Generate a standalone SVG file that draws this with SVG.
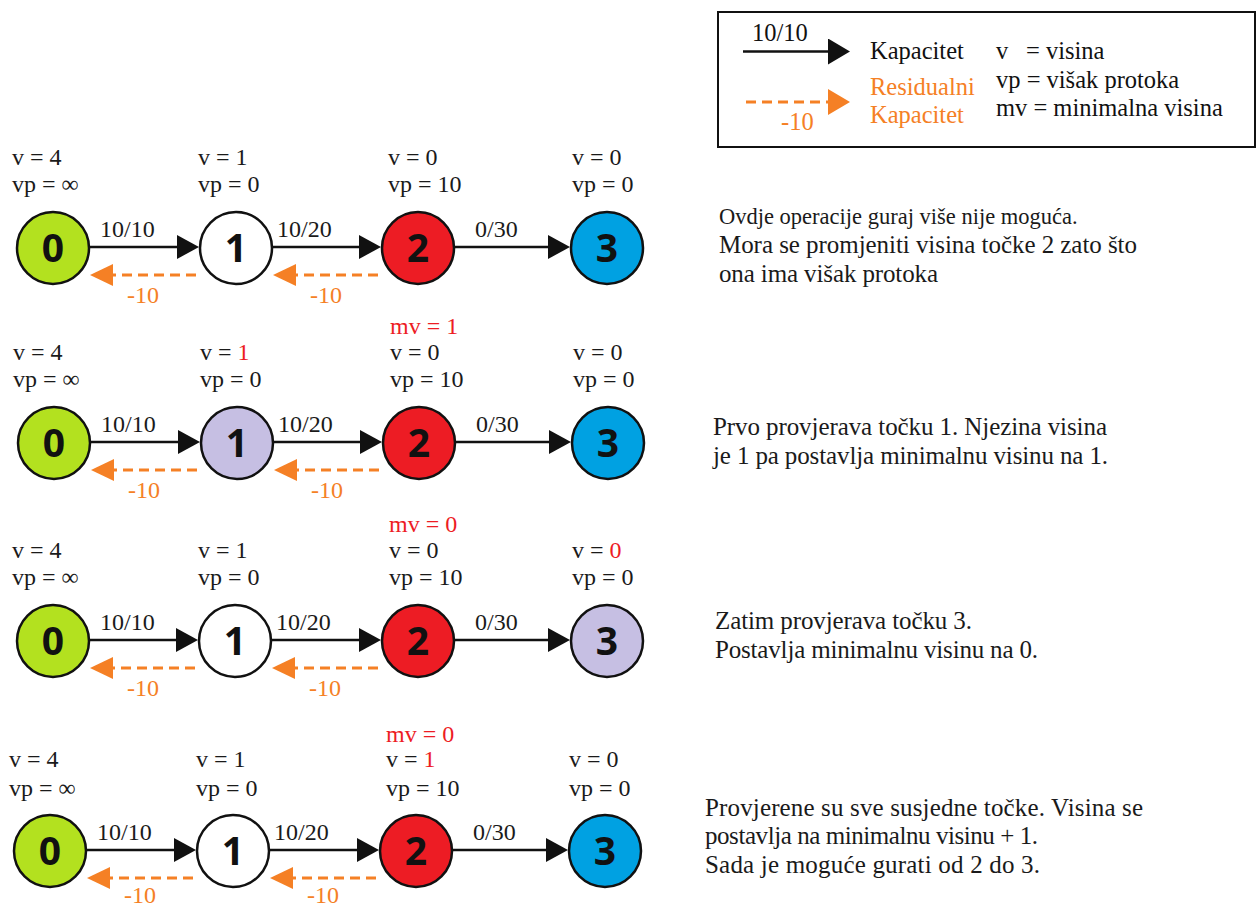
<svg xmlns="http://www.w3.org/2000/svg" width="1260" height="908" viewBox="0 0 1260 908">
<style>
.t{font-family:'Liberation Serif','Times New Roman','DejaVu Serif',serif;font-size:24px;fill:#1a1a1a}
.p{font-family:'Liberation Serif','Times New Roman','DejaVu Serif',serif;font-size:25px;fill:#1a1a1a}
.lg{font-family:'Liberation Serif','Times New Roman','DejaVu Serif',serif;font-size:24.5px;fill:#111}
.or{fill:#f58025}
.rd{fill:#ed1c24}
.num{font-family:'Open Sans','DejaVu Sans',sans-serif;font-weight:700;font-size:39px;fill:#111;text-anchor:middle}
.c{stroke:#111;stroke-width:2.5}
.green{fill:#b3e11f}.white{fill:#fff}.red{fill:#ed1c24}.blue{fill:#00a1e2}.lav{fill:#c6bfe3}
.e{stroke:#111;stroke-width:2.5;fill:none}
.res{stroke:#f58025;stroke-width:3;stroke-dasharray:10 6;fill:none}
</style>
<defs>
<marker id="ah" markerUnits="userSpaceOnUse" markerWidth="22" markerHeight="24" viewBox="0 0 22 24" refX="0" refY="12" orient="auto"><path d="M0,0 L22,12 L0,24 z" fill="#111"/></marker>
<marker id="ao" markerUnits="userSpaceOnUse" markerWidth="23" markerHeight="22" viewBox="0 0 23 22" refX="0" refY="11" orient="auto"><path d="M0,0 L23,11 L0,22 z" fill="#f58025"/></marker>
<marker id="ahL" markerUnits="userSpaceOnUse" markerWidth="22" markerHeight="26" viewBox="0 0 22 26" refX="0" refY="13" orient="auto"><path d="M0,0 L22,13 L0,26 z" fill="#111"/></marker>
<marker id="aoL" markerUnits="userSpaceOnUse" markerWidth="22" markerHeight="26" viewBox="0 0 22 26" refX="0" refY="13" orient="auto"><path d="M0,0 L22,13 L0,26 z" fill="#f58025"/></marker>
</defs>

<g id="legend">
<rect x="718" y="12" width="537" height="135" fill="#fff" stroke="#111" stroke-width="2"/>
<line x1="743" y1="51.5" x2="828" y2="51.5" class="e" marker-end="url(#ahL)"/>
<text class="lg" x="752" y="41">10/10</text>
<text class="lg" x="870" y="59">Kapacitet</text>
<line x1="746" y1="102" x2="828" y2="102" class="res" marker-end="url(#aoL)"/>
<text class="lg or" x="870" y="95">Residualni</text>
<text class="lg or" x="870" y="123">Kapacitet</text>
<text class="lg or" x="781" y="130">-10</text>
<text class="lg" x="996" y="59">v<tspan x="1026">= visina</tspan></text>
<text class="lg" x="996" y="88">vp = višak protoka</text>
<text class="lg" x="996" y="116">mv = minimalna visina</text>
</g>

<g id="connectors">
<line x1="90" y1="247" x2="177" y2="247" class="e" marker-end="url(#ah)"/>
<line x1="273" y1="247" x2="359" y2="247" class="e" marker-end="url(#ah)"/>
<line x1="455" y1="247" x2="548" y2="247" class="e" marker-end="url(#ah)"/>
<line x1="196" y1="275" x2="113" y2="275" class="res" marker-end="url(#ao)"/>
<line x1="378" y1="275" x2="296" y2="275" class="res" marker-end="url(#ao)"/>
<text class="t" x="100" y="237">10/10</text>
<text class="t" x="277" y="237">10/20</text>
<text class="t" x="475" y="237">0/30</text>
<text class="t or" x="127" y="303">-10</text>
<text class="t or" x="310" y="303">-10</text>

<line x1="91" y1="442" x2="178" y2="442" class="e" marker-end="url(#ah)"/>
<line x1="274" y1="442" x2="360" y2="442" class="e" marker-end="url(#ah)"/>
<line x1="456" y1="442" x2="549" y2="442" class="e" marker-end="url(#ah)"/>
<line x1="197" y1="470" x2="114" y2="470" class="res" marker-end="url(#ao)"/>
<line x1="379" y1="470" x2="297" y2="470" class="res" marker-end="url(#ao)"/>
<text class="t" x="101" y="432">10/10</text>
<text class="t" x="278" y="432">10/20</text>
<text class="t" x="476" y="432">0/30</text>
<text class="t or" x="128" y="498">-10</text>
<text class="t or" x="311" y="498">-10</text>

<line x1="90" y1="640" x2="176" y2="640" class="e" marker-end="url(#ah)"/>
<line x1="272" y1="640" x2="359" y2="640" class="e" marker-end="url(#ah)"/>
<line x1="455" y1="640" x2="548" y2="640" class="e" marker-end="url(#ah)"/>
<line x1="195" y1="668" x2="113" y2="668" class="res" marker-end="url(#ao)"/>
<line x1="378" y1="668" x2="295" y2="668" class="res" marker-end="url(#ao)"/>
<text class="t" x="100" y="630">10/10</text>
<text class="t" x="276" y="630">10/20</text>
<text class="t" x="475" y="630">0/30</text>
<text class="t or" x="127" y="696">-10</text>
<text class="t or" x="309" y="696">-10</text>

<line x1="87" y1="850" x2="174" y2="850" class="e" marker-end="url(#ah)"/>
<line x1="270" y1="850" x2="357" y2="850" class="e" marker-end="url(#ah)"/>
<line x1="453" y1="850" x2="546" y2="850" class="e" marker-end="url(#ah)"/>
<line x1="193" y1="878" x2="110" y2="878" class="res" marker-end="url(#ao)"/>
<line x1="376" y1="878" x2="293" y2="878" class="res" marker-end="url(#ao)"/>
<text class="t" x="97" y="840">10/10</text>
<text class="t" x="274" y="840">10/20</text>
<text class="t" x="473" y="840">0/30</text>
<text class="t or" x="124" y="903">-10</text>
<text class="t or" x="307" y="903">-10</text>
</g>

<g id="r1n0" transform="translate(53,248)"><circle r="36" class="c green"/><text class="num" y="14">0</text><text class="t" x="-41" y="-83">v = 4</text><text class="t" x="-41" y="-56">vp = ∞</text></g>
<g id="r1n1" transform="translate(236,248)"><circle r="36" class="c white"/><text class="num" y="14">1</text><text class="t" x="-38" y="-83">v = 1</text><text class="t" x="-38" y="-56">vp = 0</text></g>
<g id="r1n2" transform="translate(418,248)"><circle r="36" class="c red"/><text class="num" y="14">2</text><text class="t" x="-30" y="-83">v = 0</text><text class="t" x="-30" y="-56">vp = 10</text></g>
<g id="r1n3" transform="translate(607,248)"><circle r="36" class="c blue"/><text class="num" y="14">3</text><text class="t" x="-35" y="-83">v = 0</text><text class="t" x="-35" y="-56">vp = 0</text></g>

<g id="r2n0" transform="translate(54,443)"><circle r="36" class="c green"/><text class="num" y="14">0</text><text class="t" x="-41" y="-83">v = 4</text><text class="t" x="-41" y="-56">vp = ∞</text></g>
<g id="r2n1" transform="translate(237,443)"><circle r="36" class="c lav"/><text class="num" y="14">1</text><text class="t" x="-37" y="-83">v = <tspan class="rd">1</tspan></text><text class="t" x="-37" y="-56">vp = 0</text></g>
<g id="r2n2" transform="translate(419,443)"><circle r="36" class="c red"/><text class="num" y="14">2</text><text class="t rd" x="-29" y="-109">mv = 1</text><text class="t" x="-29" y="-83">v = 0</text><text class="t" x="-29" y="-56">vp = 10</text></g>
<g id="r2n3" transform="translate(608,443)"><circle r="36" class="c blue"/><text class="num" y="14">3</text><text class="t" x="-35" y="-83">v = 0</text><text class="t" x="-35" y="-56">vp = 0</text></g>

<g id="r3n0" transform="translate(53,641)"><circle r="36" class="c green"/><text class="num" y="14">0</text><text class="t" x="-41" y="-83">v = 4</text><text class="t" x="-41" y="-56">vp = ∞</text></g>
<g id="r3n1" transform="translate(235,641)"><circle r="36" class="c white"/><text class="num" y="14">1</text><text class="t" x="-37" y="-83">v = 1</text><text class="t" x="-37" y="-56">vp = 0</text></g>
<g id="r3n2" transform="translate(418,641)"><circle r="36" class="c red"/><text class="num" y="14">2</text><text class="t rd" x="-29" y="-109">mv = 0</text><text class="t" x="-29" y="-83">v = 0</text><text class="t" x="-29" y="-56">vp = 10</text></g>
<g id="r3n3" transform="translate(607,641)"><circle r="36" class="c lav"/><text class="num" y="14">3</text><text class="t" x="-35" y="-83">v = <tspan class="rd">0</tspan></text><text class="t" x="-35" y="-56">vp = 0</text></g>

<g id="r4n0" transform="translate(50,851)"><circle r="36" class="c green"/><text class="num" y="14">0</text><text class="t" x="-41" y="-84">v = 4</text><text class="t" x="-41" y="-55">vp = ∞</text></g>
<g id="r4n1" transform="translate(233,851)"><circle r="36" class="c white"/><text class="num" y="14">1</text><text class="t" x="-37" y="-84">v = 1</text><text class="t" x="-37" y="-55">vp = 0</text></g>
<g id="r4n2" transform="translate(416,851)"><circle r="36" class="c red"/><text class="num" y="14">2</text><text class="t rd" x="-30" y="-109">mv = 0</text><text class="t" x="-30" y="-84">v = <tspan class="rd">1</tspan></text><text class="t" x="-30" y="-55">vp = 10</text></g>
<g id="r4n3" transform="translate(605,851)"><circle r="36" class="c blue"/><text class="num" y="14">3</text><text class="t" x="-36" y="-84">v = 0</text><text class="t" x="-36" y="-55">vp = 0</text></g>

<g id="notes">
<text class="p" x="719" y="224" style="font-size:22.5px">Ovdje operacije guraj više nije moguća.</text>
<text class="p" x="719" y="253" textLength="418" lengthAdjust="spacing">Mora se promjeniti visina točke 2 zato što</text>
<text class="p" x="719" y="282" textLength="219" lengthAdjust="spacing">ona ima višak protoka</text>
<text class="p" x="713" y="435" textLength="394" lengthAdjust="spacing">Prvo provjerava točku 1. Njezina visina</text>
<text class="p" x="713" y="464" textLength="395" lengthAdjust="spacing">je 1 pa postavlja minimalnu visinu na 1.</text>
<text class="p" x="715" y="629" textLength="257" lengthAdjust="spacing">Zatim provjerava točku 3.</text>
<text class="p" x="715" y="658" textLength="323" lengthAdjust="spacing">Postavlja minimalnu visinu na 0.</text>
<text class="p" x="705" y="816" textLength="438" lengthAdjust="spacing">Provjerene su sve susjedne točke. Visina se</text>
<text class="p" x="705" y="844" textLength="333" lengthAdjust="spacing">postavlja na minimalnu visinu + 1.</text>
<text class="p" x="705" y="873" textLength="335" lengthAdjust="spacing">Sada je moguće gurati od 2 do 3.</text>
</g>
</svg>
